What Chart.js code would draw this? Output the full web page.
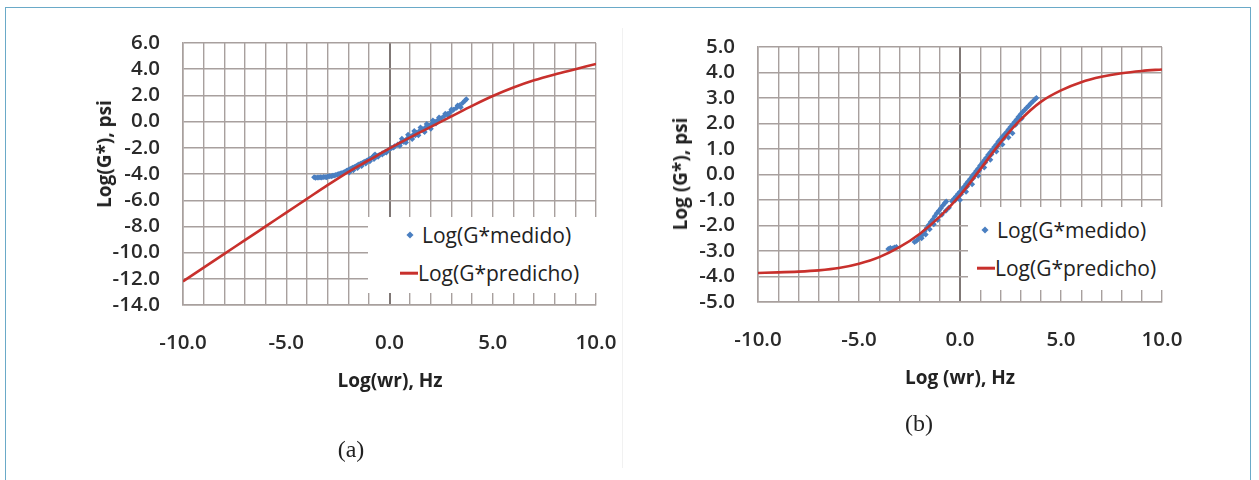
<!DOCTYPE html>
<html>
<head>
<meta charset="utf-8">
<script src="https://cdn.jsdelivr.net/npm/chart.js@4.4.1/dist/chart.umd.min.js"></script>
<style>
  html,body{margin:0;padding:0;background:#fff;}
  body{width:1259px;height:480px;position:relative;overflow:hidden;font-family:"Open Sans",sans-serif;}
  .frame{position:absolute;left:5px;top:7px;width:1246px;height:500px;border:1.5px solid #6aaac8;border-bottom:none;box-sizing:border-box;}
  .divider{position:absolute;left:622px;top:28px;width:1px;height:440px;background:#f1f1f1;}
  canvas{position:absolute;top:0;}
  .ytitle,.xtitle{position:absolute;font-weight:700;font-size:19px;color:#222;white-space:nowrap;transform:translate(-50%,-50%);}
  .ytitle{transform:translate(-50%,-50%) rotate(-90deg);}
  .panel{position:absolute;font-family:"Liberation Serif",serif;font-size:24px;color:#222;transform:translate(-50%,-50%);}
  .leg{position:absolute;background:#fff;}
  .leg .dia{position:absolute;width:5px;height:5px;background:#4a7fc1;transform:translate(-50%,-50%) rotate(45deg);}
  .leg .ln{position:absolute;height:2.6px;background:#c8302c;transform:translateY(-50%);}
  .leg .tx{position:absolute;font-size:21px;line-height:24px;color:#222;white-space:nowrap;}
</style>
</head>
<body>
<div class="frame"></div>
<div class="divider"></div>
<canvas id="cb" width="629" height="400" style="left:630px"></canvas>
<canvas id="ca" width="660" height="400" style="left:0"></canvas>

<div class="ytitle" style="left:104px;top:154px">Log(G*), psi</div>
<div class="xtitle" style="left:390px;top:380px">Log(wr), Hz</div>
<div class="panel" style="left:351px;top:449px">(a)</div>

<div class="ytitle" style="left:680px;top:174px">Log (G*), psi</div>
<div class="xtitle" style="left:960px;top:377px">Log (wr), Hz</div>
<div class="panel" style="left:919px;top:423px">(b)</div>

<div class="leg" style="left:368px;top:217px;width:232px;height:76px">
  <div class="dia" style="left:42px;top:18px"></div>
  <div class="tx" style="left:54px;top:6px">Log(G*medido)</div>
  <div class="ln" style="left:32px;top:56px;width:18px"></div>
  <div class="tx" style="left:50px;top:44px">Log(G*predicho)</div>
</div>
<div class="leg" style="left:968px;top:207px;width:199px;height:83px">
  <div class="dia" style="left:17px;top:23px"></div>
  <div class="tx" style="left:29px;top:11px">Log(G*medido)</div>
  <div class="ln" style="left:9px;top:61px;width:18px"></div>
  <div class="tx" style="left:27px;top:49px">Log(G*predicho)</div>
</div>

<script>
// ---- data ----
const seriesNames = ["Log(G*medido)", "Log(G*predicho)"];
const xGrid = [-10,-9,-8,-7,-6,-5,-4,-3,-2,-1,0,1,2,3,4,5,6,7,8,9,10];
const xTickLabels = [-10, -5, 0, 5, 10];

// Panel (a)
const predA = [-12.2,-11.15,-10.1,-9.05,-8.0,-6.95,-5.9,-4.85,-3.85,-2.95,-2.05,-1.2,-0.4,0.4,1.2,1.95,2.6,3.15,3.6,4.0,4.4];
const measAx = [-3.65,-3.58,-3.5,-3.42,-3.35,-3.28,-3.2,-3.12,-3.05,-2.98,-2.9,-2.82,-2.75,-2.68,-2.6,-2.52,-2.45,-2.38,-2.3,-2.22,-2.15,-2.08,-2.0,-1.92,-1.85,-1.78,-1.7,-1.62,-1.55,-1.48,-1.4,-1.32,-1.25,-1.18,-1.1,-1.02,-0.95,-0.88,-0.8,-0.75,-0.7,-0.65,
  -1.95,-1.75,-1.55,-1.35,-1.15,-0.95,-0.75,-0.55,-0.35,-0.15,
  -0.5,-0.35,-0.2,-0.05,0.1,0.25,0.4,0.55,0.7,0.85,1.0,1.15,1.3,1.45,1.6,1.75,1.9,2.05,2.2,2.35,2.5,2.65,2.8,2.95,3.1,3.25,3.4,3.55,3.66,3.72,
  0.6,0.9,1.2,1.5,1.8,2.1,2.4,2.7,3.0,3.3,
  0.5,0.8,1.1,1.4,1.7,2.0,
  -1.85,-1.45,-1.05,-0.6,-0.25,0.2,0.7,1.25,1.65,2.25,2.85,3.45];
const measAy = [-4.25,-4.28,-4.26,-4.27,-4.24,-4.26,-4.23,-4.22,-4.24,-4.2,-4.18,-4.17,-4.13,-4.11,-4.07,-4.04,-4.0,-3.96,-3.92,-3.88,-3.82,-3.76,-3.7,-3.64,-3.58,-3.52,-3.46,-3.4,-3.34,-3.28,-3.22,-3.16,-3.1,-3.04,-2.98,-2.92,-2.86,-2.8,-2.68,-2.58,-2.52,-2.66,
  -3.88,-3.72,-3.55,-3.38,-3.2,-3.02,-2.85,-2.68,-2.52,-2.36,
  -2.55,-2.42,-2.3,-2.16,-2.02,-1.88,-1.74,-1.6,-1.46,-1.3,-1.15,-1.0,-0.86,-0.72,-0.58,-0.44,-0.3,-0.16,-0.02,0.12,0.26,0.42,0.58,0.74,0.9,1.06,1.24,1.44,1.62,1.7,
  -1.3,-1.0,-0.72,-0.45,-0.18,0.08,0.32,0.6,0.92,1.22,
  -1.85,-1.6,-1.32,-1.05,-0.8,-0.55,
  -3.62,-3.3,-2.98,-2.62,-2.38,-1.98,-1.55,-1.05,-0.7,-0.15,0.45,1.1];
const yTicksA = [-14,-12,-10,-8,-6,-4,-2,0,2,4,6];

// Panel (b)
const predB = [-3.86,-3.84,-3.81,-3.76,-3.67,-3.5,-3.24,-2.85,-2.33,-1.65,-0.82,0.2,1.25,2.15,2.85,3.3,3.62,3.83,3.97,4.06,4.12];
const measBx = [-3.55,-3.45,-3.35,-3.25,-3.15,
  -2.25,-2.15,-2.05,-1.95,-1.85,-1.75,-1.65,-1.55,-1.45,-1.35,-1.25,-1.15,-1.05,-0.95,-0.85,-0.75,-0.68,
  -1.9,-1.7,-1.5,-1.3,-1.1,-0.9,-0.7,-0.55,
  -0.4,-0.3,-0.2,-0.1,0.0,0.1,0.2,0.3,0.4,0.5,0.6,0.7,0.8,0.9,1.0,1.1,1.2,1.3,1.4,1.5,1.6,1.7,1.8,1.9,2.0,2.1,2.2,2.3,2.4,2.5,2.6,2.7,2.8,2.9,3.0,3.1,3.2,3.3,3.4,3.5,3.6,3.7,3.78,
  -0.25,0.05,0.35,0.65,0.95,1.25,1.55,1.85,2.15,2.45,2.75,3.05,
  0.0,0.3,0.6,0.9,1.2,1.5,1.8,2.1,2.4,2.6];
const measBy = [-2.92,-2.88,-2.9,-2.86,-2.84,
  -2.65,-2.6,-2.52,-2.45,-2.35,-2.22,-2.1,-1.98,-1.86,-1.76,-1.64,-1.52,-1.42,-1.32,-1.22,-1.12,-1.06,
  -2.5,-2.35,-2.15,-1.95,-1.78,-1.58,-1.42,-1.3,
  -1.05,-0.95,-0.86,-0.76,-0.68,-0.58,-0.48,-0.37,-0.27,-0.18,-0.07,0.03,0.14,0.24,0.35,0.45,0.56,0.66,0.77,0.87,0.97,1.08,1.18,1.29,1.38,1.48,1.57,1.66,1.76,1.86,1.96,2.06,2.16,2.26,2.36,2.45,2.53,2.62,2.7,2.78,2.86,2.94,3.0,
  -1.02,-0.77,-0.47,-0.15,0.15,0.47,0.78,1.1,1.4,1.68,1.95,2.2,
  -1.0,-0.68,-0.38,-0.05,0.27,0.58,0.9,1.18,1.45,1.62];
const yTicksB = [-5,-4,-3,-2,-1,0,1,2,3,4,5];

// ---- styles ----
const BLUE = '#4a7fc1', RED = '#c8302c';
const GRID = '#a8a09e', AXIS0 = '#7f7775';
const tickFont = {family: 'Open Sans', size: 20.5, weight: '600'};

function pairs(xs, ys){ return xs.map((x,i)=>({x:x, y:ys[i]})); }

function makeChart(id, pred, mx, my, yTicks, pad, yWidth){
  const ctx = document.getElementById(id).getContext('2d');
  return new Chart(ctx, {
    type: 'scatter',
    data: {
      datasets: [
        {label: seriesNames[0], data: pairs(mx, my), pointStyle: 'rectRot', pointRadius: 3,
         backgroundColor: BLUE, borderColor: BLUE, borderWidth: 0, showLine: false, order: 2},
        {label: seriesNames[1], data: pairs(xGrid, pred), showLine: true, pointRadius: 0,
         borderColor: RED, backgroundColor: RED, borderWidth: 2.6, cubicInterpolationMode: 'monotone', order: 1}
      ]
    },
    options: {
      responsive: false, animation: false, devicePixelRatio: 1,
      layout: {padding: pad},
      plugins: {legend: {display: false}, tooltip: {enabled: false}},
      scales: {
        x: {
          type: 'linear', min: xGrid[0], max: xGrid[xGrid.length-1],
          afterFit: s => { s.height = 60; },
          afterBuildTicks: s => { s.ticks = xGrid.map(v => ({value: v})); },
          ticks: {autoSkip: false, maxRotation: 0, padding: 26, color: '#2a2a2a', font: tickFont,
                  callback: v => xTickLabels.includes(v) ? v.toFixed(1) : ''},
          grid: {drawTicks: false, lineWidth: c => (c.tick && c.tick.value === 0) ? 2 : 1.4,
                 color: c => (c.tick && c.tick.value === 0) ? AXIS0 : GRID},
          border: {display: true, color: GRID, width: 1.6}
        },
        y: {
          type: 'linear', min: yTicks[0], max: yTicks[yTicks.length-1],
          afterFit: s => { s.width = yWidth; },
          afterBuildTicks: s => { s.ticks = yTicks.map(v => ({value: v})); },
          ticks: {autoSkip: false, padding: 23, color: '#2a2a2a', font: tickFont,
                  callback: v => v.toFixed(1)},
          grid: {drawTicks: false, lineWidth: 1.4, color: GRID},
          border: {display: true, color: GRID, width: 1.6}
        }
      }
    }
  });
}

makeChart('ca', predA, measAx, measAy, yTicksA, {top: 43, left: 0, right: 64, bottom: 35}, 183);
makeChart('cb', predB, measBx, measBy, yTicksB, {top: 47, left: 0, right: 97, bottom: 38}, 128);
</script>
</body>
</html>
